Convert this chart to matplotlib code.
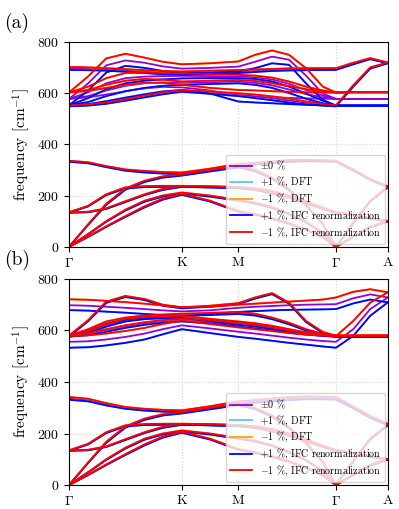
import matplotlib.pyplot as plt

plt.rcParams['font.family'] = 'serif'
plt.rcParams['font.serif'] = ['cmr10']
plt.rcParams['mathtext.fontset'] = 'cm'
plt.rcParams['axes.formatter.use_mathtext'] = True

k_path = [0, 0.17, 0.33, 0.5, 0.67, 0.83, 1.0, 1.25, 1.5, 1.65, 1.8, 1.95,
          2.1, 2.25, 2.366, 2.52, 2.67, 2.826]
tick_pos = [0, 1.0, 1.5, 2.366, 2.826]
tick_labels = [r'$\Gamma$', 'K', 'M', r'$\Gamma$', 'A']

# acoustic + low optical bands (same in both panels)
low_zero = [
    [0, 40, 79, 118, 156, 186, 205, 178, 138, 126, 110, 91, 67, 37, 0, 40, 77, 100],
    [0, 50, 99, 143, 178, 198, 210, 198, 181, 170, 153, 128, 97, 54, 0, 40, 77, 100],
    [0, 87, 166, 225, 255, 272, 280, 297, 313, 297, 267, 223, 163, 89, 0, 94, 178, 234],
    [134, 159, 203, 230, 235, 236, 236, 234, 231, 226, 216, 198, 176, 152, 134, 124, 111, 100],
    [134, 136, 149, 176, 203, 224, 236, 234, 231, 224, 210, 193, 170, 149, 134, 124, 111, 100],
]
low_plus = [
    [0, 39, 78, 117, 154, 184, 203, 177, 137, 125, 109, 90, 66, 37, 0, 39, 76, 99],
    [0, 49, 98, 142, 176, 196, 208, 196, 180, 169, 152, 127, 96, 54, 0, 39, 76, 99],
    [0, 86, 164, 223, 253, 270, 278, 294, 310, 295, 265, 221, 162, 88, 0, 93, 177, 232],
    [133, 158, 202, 228, 233, 234, 234, 232, 229, 224, 214, 197, 175, 151, 133, 123, 110, 99],
    [133, 135, 148, 175, 202, 222, 234, 232, 229, 222, 208, 192, 169, 148, 133, 123, 110, 99],
]
low_minus = [
    [0, 40, 80, 120, 158, 188, 207, 180, 140, 128, 112, 92, 68, 38, 0, 40, 78, 101],
    [0, 50, 100, 145, 180, 200, 212, 200, 183, 172, 155, 130, 98, 55, 0, 40, 78, 101],
    [0, 88, 168, 228, 258, 275, 283, 300, 316, 300, 270, 225, 165, 90, 0, 95, 180, 236],
    [135, 160, 205, 232, 237, 238, 238, 236, 233, 228, 218, 200, 178, 153, 135, 125, 112, 101],
    [135, 137, 150, 178, 205, 226, 238, 236, 233, 226, 212, 195, 172, 150, 135, 125, 112, 101],
]

# panel (a): upper bands
a_zero = [
    [334, 328, 313, 300, 293, 289, 287, 301, 320, 325, 330, 335, 337, 335, 334, 300, 263, 234],
    [550, 553, 560, 573, 587, 599, 608, 602, 594, 587, 580, 571, 562, 555, 550, 628, 698, 718],
    [577, 583, 594, 607, 618, 624, 622, 610, 590, 587, 584, 581, 579, 578, 577, 577, 577, 577],
    [577, 588, 610, 628, 638, 641, 640, 642, 645, 640, 630, 614, 596, 583, 577, 577, 577, 577],
    [577, 603, 638, 658, 664, 666, 667, 666, 665, 662, 653, 636, 612, 590, 577, 577, 577, 577],
    [577, 638, 708, 727, 718, 704, 695, 698, 703, 722, 742, 730, 668, 598, 577, 577, 577, 577],
    [695, 694, 692, 688, 683, 679, 677, 680, 684, 687, 690, 692, 693, 694, 694, 715, 734, 718],
]
a_plus = [
    [332, 326, 311, 297, 290, 286, 283, 298, 316, 321, 327, 332, 334, 333, 332, 298, 261, 232],
    [548, 551, 558, 570, 583, 595, 605, 597, 588, 580, 572, 563, 556, 551, 548, 625, 695, 716],
    [552, 557, 568, 582, 595, 606, 612, 598, 567, 563, 560, 557, 554, 552, 551, 551, 551, 551],
    [552, 565, 588, 607, 620, 628, 632, 635, 638, 632, 620, 600, 578, 560, 551, 551, 551, 551],
    [552, 580, 615, 638, 648, 653, 657, 658, 658, 655, 645, 625, 598, 570, 551, 551, 551, 551],
    [552, 610, 680, 706, 698, 686, 677, 680, 684, 697, 716, 710, 638, 573, 551, 551, 551, 551],
    [690, 689, 687, 683, 678, 673, 670, 674, 678, 682, 686, 688, 689, 690, 690, 712, 732, 716],
]
a_minus = [
    [336, 330, 315, 302, 296, 292, 290, 305, 324, 328, 333, 338, 340, 338, 336, 302, 265, 236],
    [552, 556, 563, 576, 590, 603, 612, 606, 599, 594, 587, 578, 567, 558, 552, 630, 700, 719],
    [602, 608, 620, 632, 640, 640, 632, 620, 612, 610, 607, 605, 603, 602, 602, 603, 603, 603],
    [602, 612, 632, 648, 655, 652, 645, 648, 651, 647, 638, 627, 615, 606, 602, 603, 603, 603],
    [602, 625, 658, 678, 680, 678, 677, 674, 671, 668, 660, 645, 625, 610, 602, 603, 603, 603],
    [602, 665, 735, 753, 738, 722, 712, 716, 723, 749, 766, 749, 697, 625, 602, 603, 603, 603],
    [702, 700, 697, 693, 689, 686, 684, 687, 690, 692, 694, 696, 697, 697, 697, 718, 736, 719],
]

# panel (b): upper bands
b_zero = [
    [336, 330, 313, 300, 293, 289, 287, 302, 320, 325, 330, 335, 338, 337, 336, 301, 264, 235],
    [556, 558, 565, 575, 588, 605, 620, 608, 595, 588, 580, 572, 565, 559, 556, 605, 683, 728],
    [578, 586, 600, 615, 627, 635, 640, 635, 622, 615, 606, 596, 587, 581, 578, 578, 578, 578],
    [578, 594, 620, 640, 648, 651, 653, 640, 628, 622, 612, 600, 590, 582, 578, 578, 578, 578],
    [578, 602, 630, 646, 654, 658, 661, 664, 668, 662, 647, 627, 602, 585, 578, 578, 578, 578],
    [578, 638, 710, 732, 720, 698, 688, 694, 704, 726, 743, 706, 635, 592, 578, 578, 578, 578],
    [698, 696, 692, 688, 683, 678, 674, 678, 688, 692, 695, 698, 700, 701, 702, 725, 740, 728],
]
b_plus = [
    [331, 325, 309, 296, 289, 285, 283, 298, 316, 320, 325, 330, 333, 333, 332, 298, 261, 232],
    [533, 535, 542, 552, 565, 585, 605, 590, 575, 568, 560, 552, 545, 538, 533, 579, 657, 709],
    [576, 582, 595, 610, 622, 630, 635, 628, 615, 608, 600, 592, 584, 579, 576, 576, 576, 576],
    [576, 590, 615, 635, 644, 647, 648, 636, 622, 616, 606, 596, 587, 580, 576, 576, 576, 576],
    [576, 598, 625, 642, 650, 654, 657, 660, 664, 658, 644, 624, 600, 583, 576, 576, 576, 576],
    [576, 636, 707, 730, 718, 696, 686, 692, 702, 724, 741, 704, 633, 590, 576, 576, 576, 576],
    [679, 677, 673, 669, 664, 660, 657, 662, 672, 675, 678, 680, 681, 682, 683, 705, 720, 709],
]
b_minus = [
    [342, 335, 318, 303, 296, 292, 290, 306, 325, 330, 336, 341, 344, 343, 342, 305, 268, 238],
    [578, 581, 588, 598, 610, 625, 638, 625, 612, 605, 598, 590, 584, 580, 578, 637, 708, 748],
    [580, 590, 605, 620, 632, 640, 645, 640, 630, 622, 612, 600, 590, 583, 580, 580, 580, 580],
    [580, 598, 625, 645, 652, 655, 657, 645, 635, 628, 618, 605, 593, 584, 580, 580, 580, 580],
    [580, 605, 635, 650, 658, 662, 665, 668, 672, 665, 650, 630, 605, 587, 580, 580, 580, 580],
    [580, 640, 712, 734, 722, 700, 690, 696, 706, 728, 745, 708, 637, 594, 580, 580, 580, 580],
    [721, 719, 715, 710, 704, 697, 690, 692, 700, 704, 708, 712, 716, 720, 728, 750, 760, 748],
]

labels = [r'$\pm0$ %', r'$+1$ %, DFT', r'$-1$ %, DFT',
          r'$+1$ %, IFC renormalization', r'$-1$ %, IFC renormalization']
colors = ['darkviolet', '#5ec4f5', 'orange', 'blue', 'red']

fig = plt.figure(figsize=(3.99, 5.09), dpi=100)
ax_a = fig.add_axes([0.173, 0.515, 0.799, 0.403])
ax_b = fig.add_axes([0.173, 0.047, 0.799, 0.405])

panels = [
    (ax_a, [a_zero, a_plus, a_minus, a_plus, a_minus], '(a)', 0.975),
    (ax_b, [b_zero, b_plus, b_minus, b_plus, b_minus], '(b)', 0.51),
]
lows = [low_zero, low_plus, low_minus, low_plus, low_minus]

for ax, highs, tag, ty in panels:
    handles = []
    for i in range(5):
        for band in lows[i] + highs[i]:
            line, = ax.plot(k_path, band, color=colors[i], lw=1.3)
        handles.append(line)
    ax.set_xlim(0, tick_pos[-1])
    ax.set_ylim(0, 800)
    ax.set_xticks(tick_pos)
    ax.set_xticklabels(tick_labels)
    ax.set_yticks([0, 200, 400, 600, 800])
    ax.tick_params(labelsize=10)
    ax.grid(True, linestyle=':', color='lightgray', lw=0.8)
    ax.set_ylabel(r'frequency [cm$^{-1}$]', fontsize=11)
    ax.legend(handles, labels, loc='lower right', fontsize=7.2,
              labelspacing=0.25, handlelength=2.2, borderaxespad=0.3,
              framealpha=0.8)
    fig.text(0.01, ty, tag, fontsize=14, va='top')

fig.savefig('out.png', dpi=100)
